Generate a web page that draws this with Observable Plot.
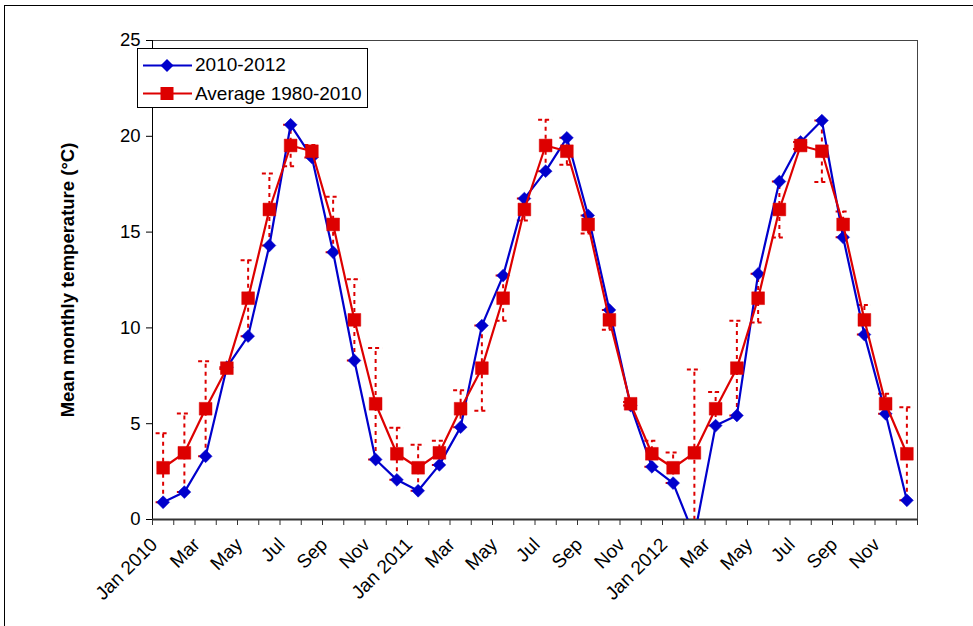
<!DOCTYPE html>
<html>
<head>
<meta charset="utf-8">
<script src="https://cdn.jsdelivr.net/npm/d3@7"></script>
<script src="https://cdn.jsdelivr.net/npm/@observablehq/plot@0.6"></script>
<style>
  html, body { margin: 0; padding: 0; background: #fff; }
  body { width: 973px; height: 626px; overflow: hidden; position: relative; font-family: "Liberation Sans", Arial, sans-serif; }
  #outer { position: absolute; left: 4px; top: 5px; width: 1000px; height: 700px; border: 1px solid #000; box-sizing: border-box; pointer-events: none; }
  #chart { position: absolute; left: 0; top: 0; }
  #legend { position: absolute; left: 137px; top: 48px; width: 231px; height: 60px; border: 1px solid #000; background: #fff; box-sizing: border-box; }
  .item { position: absolute; left: 5px; height: 20px; display: flex; align-items: center; font-size: 19px; color: #000; white-space: nowrap; }
  .item svg { margin-right: 3px; }
</style>
</head>
<body>
<div id="chart"></div>
<div id="legend"></div>
<div id="outer"></div>
<script>
// Month index 0..35 = Jan 2010 .. Dec 2012
const seriesNames = ["2010-2012", "Average 1980-2010"];
const tickLabels = ["Jan 2010", "Mar", "May", "Jul", "Sep", "Nov",
                    "Jan 2011", "Mar", "May", "Jul", "Sep", "Nov",
                    "Jan 2012", "Mar", "May", "Jul", "Sep", "Nov"];
const yTicks = [0, 5, 10, 15, 20, 25];

// 2010-2012 observed mean monthly temperature (°C)
const observed = [
  0.90, 1.43, 3.30, 7.95, 9.57, 14.30, 20.60, 18.90, 13.95, 8.30, 3.13, 2.07,
  1.50, 2.85, 4.82, 10.12, 12.73, 16.75, 18.18, 19.92, 15.87, 10.94, 5.95, 2.75,
  1.90, -0.87, 4.90, 5.43, 12.82, 17.64, 19.70, 20.82, 14.73, 9.65, 5.52, 1.00
];
// Average 1980-2010, Jan..Dec
const average = [2.70, 3.48, 5.78, 7.90, 11.55, 16.18, 19.52, 19.22, 15.40, 10.42, 6.04, 3.43];
// Error bar half-lengths on the average series (deviation of each month)
const deviation = [
  1.80, 2.05, 2.48, 0.05, 1.98, 1.88, 1.08, 0.32, 1.45, 2.12, 2.91, 1.36,
  1.20, 0.63, 0.96, 2.22, 1.18, 0.57, 1.34, 0.70, 0.47, 0.52, 0.09, 0.68,
  0.80, 4.35, 0.88, 2.47, 1.27, 1.46, 0.18, 1.60, 0.67, 0.77, 0.52, 2.43
];

const blue = "#0000cc";
const red = "#dd0000";

const rows = observed.map((v, i) => ({
  i, obs: v, avg: average[i % 12], lo: average[i % 12] - deviation[i], hi: average[i % 12] + deviation[i]
}));
const labelIdx = tickLabels.map((_, k) => k * 2);
const boundaries = d3.range(37).map(k => k - 0.5);

const plot = Plot.plot({
  width: 973,
  height: 626,
  marginLeft: 152,
  marginRight: 56,
  marginTop: 40,
  marginBottom: 107,
  style: { fontFamily: "'Liberation Sans', Arial, sans-serif", fontSize: "18px", color: "#000", background: "transparent" },
  x: { domain: [-0.5, 35.5] },
  y: { domain: [0, 25] },
  marks: [
    // plot-area border (top & right)
    Plot.ruleY([25], { stroke: "#444", strokeWidth: 1 }),
    Plot.ruleX([35.5], { stroke: "#444", strokeWidth: 1 }),
    // axes
    Plot.axisY({ ticks: yTicks, tickSize: 6, tickPadding: 6, label: null, fontSize: 18.5 }),
    Plot.axisX({ ticks: boundaries, tickSize: 6, tickFormat: () => "", label: null, stroke: "#333" }),
    Plot.axisX({ ticks: labelIdx, tickSize: 0, tickRotate: -45, tickFormat: (d) => tickLabels[d / 2], label: null, fontSize: 19, tickPadding: 22, dx: -9 }),
    Plot.ruleX([-0.5], { stroke: "#000", strokeWidth: 1 }),
    Plot.ruleY([0], { stroke: "#333", strokeWidth: 2 }),
    Plot.text(["Mean monthly temperature (°C)"], { frameAnchor: "left", textAnchor: "middle", dx: -84, rotate: -90, fontWeight: "bold", fontSize: 18.5 }),
    // error bars on average series
    Plot.ruleX(rows, { x: "i", y1: "lo", y2: "hi", stroke: red, strokeWidth: 2, strokeDasharray: "4,4", clip: true }),
    Plot.ruleY(rows, { y: "hi", x1: d => d.i - 0.33, x2: d => d.i + 0.33, stroke: red, strokeWidth: 2, strokeDasharray: "4,3", clip: true }),
    Plot.ruleY(rows, { y: "lo", x1: d => d.i - 0.33, x2: d => d.i + 0.33, stroke: red, strokeWidth: 2, strokeDasharray: "4,3", clip: true }),
    // observed series
    Plot.line(rows, { x: "i", y: "obs", stroke: blue, strokeWidth: 2.2, clip: true }),
    Plot.dot(rows, { x: "i", y: "obs", symbol: "diamond2", r: 5.8, fill: blue, stroke: blue, strokeWidth: 0.5, clip: true }),
    // average series
    Plot.line(rows, { x: "i", y: "avg", stroke: red, strokeWidth: 2.2, clip: true }),
    Plot.dot(rows, { x: "i", y: "avg", symbol: "square", r: 7.2, fill: red, stroke: red, strokeWidth: 0.5, clip: true })
  ]
});
document.getElementById("chart").appendChild(plot);

// Legend
const legend = document.getElementById("legend");
const colors = [blue, red];
const symbols = ["diamond", "square"];
seriesNames.forEach((name, k) => {
  const item = document.createElement("div");
  item.className = "item";
  item.style.top = (k === 0 ? 6 : 34.5) + "px";
  const marker = symbols[k] === "diamond"
    ? `<path d="M24,1 L30.5,7.5 L24,14 L17.5,7.5 Z" fill="${colors[k]}"/>`
    : `<rect x="17.5" y="1" width="13" height="13" fill="${colors[k]}"/>`;
  item.innerHTML = `<svg width="49" height="15"><line x1="0" y1="7.5" x2="49" y2="7.5" stroke="${colors[k]}" stroke-width="2.2"/>${marker}</svg><span>${name}</span>`;
  legend.appendChild(item);
});
</script>
</body>
</html>
